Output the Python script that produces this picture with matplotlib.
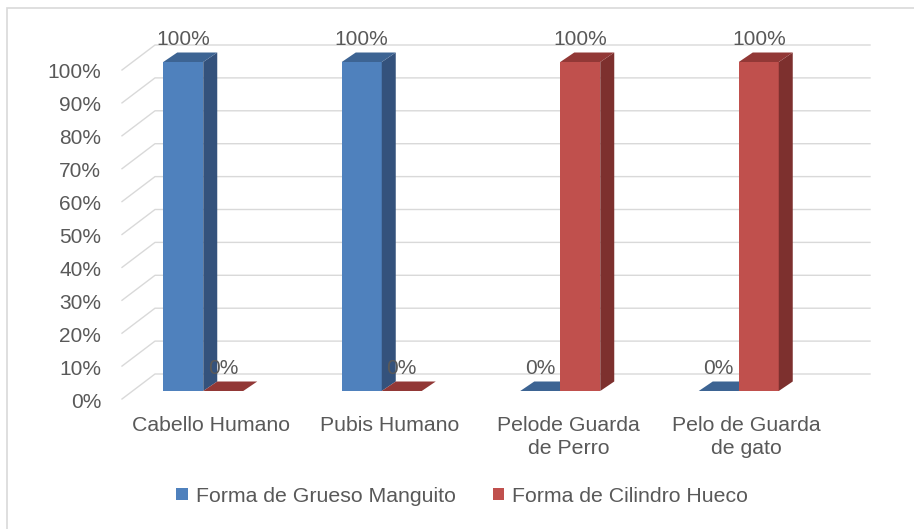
import matplotlib

matplotlib.use("Agg")
import matplotlib.pyplot as plt
from matplotlib.patches import Patch, Polygon, Rectangle

plt.rcParams["font.family"] = ["Liberation Sans", "DejaVu Sans"]

categories = ["Cabello Humano", "Pubis Humano", "Pelode Guarda\nde Perro", "Pelo de Guarda\nde gato"]
series_names = ["Forma de Grueso Manguito", "Forma de Cilindro Hueco"]
manguito = [100, 100, 0, 0]
cilindro = [0, 0, 100, 100]
y_ticks = [0, 10, 20, 30, 40, 50, 60, 70, 80, 90, 100]
y_tick_labels = [f"{v}%" for v in y_ticks]

# face colours: front, side, top
BLUE = ("#4f81bd", "#34527c", "#3d6493")
RED = ("#c0504d", "#7d302e", "#923836")
TEXT = "#595959"
GRID = "#d9d9d9"

W, H = 914, 529
# pixel scales of the front plane
PX_CAT = 178.5
PX_PCT = 3.29
# wall depth (category units, percent units)
WALL_DX = 33 / PX_CAT
WALL_DY = 25 / PX_PCT
# bar geometry
BAR_W = 40 / PX_CAT
BAR_DX = 14 / PX_CAT
BAR_DY = 9.5 / PX_PCT
BAR_BASE = 8 / PX_PCT
PAIR_SHIFT = -8 / PX_CAT

fig = plt.figure(figsize=(W / 100, H / 100), dpi=100)
left, right, bottom, top = 122, 870, 399, 20
ax = fig.add_axes([left / W, 1 - bottom / H, (right - left) / W, (bottom - top) / H])
ax.set_xlim(0, (right - left) / PX_CAT)
ax.set_ylim(0, (bottom - top) / PX_PCT)
ax.axis("off")

# chart border (only left/top edges fall inside the image)
fig.patches.append(Rectangle((7 / W, -0.05), 1.2, 1 - 8 / H + 0.05, transform=fig.transFigure,
                             fill=False, edgecolor="#d9d9d9", lw=1.2))

xmax = (right - left) / PX_CAT
for v, lab in zip(y_ticks, y_tick_labels):
    ax.plot([0, WALL_DX, xmax], [v, v + WALL_DY, v + WALL_DY], color=GRID, lw=1.0,
            zorder=1, clip_on=False)
    ax.text(-21 / PX_CAT, v - 3 / PX_PCT, lab, ha="right", va="center", fontsize=15, color=TEXT)


def draw_bar(x0, value, colors):
    front, side, top_c = colors
    y0 = BAR_BASE
    y1 = BAR_BASE + value
    x1 = x0 + BAR_W
    if value > 0:
        ax.add_patch(Rectangle((x0, y0), BAR_W, value, facecolor=front, edgecolor="none", zorder=3))
        ax.add_patch(Polygon([(x1, y0), (x1 + BAR_DX, y0 + BAR_DY), (x1 + BAR_DX, y1 + BAR_DY), (x1, y1)],
                             facecolor=side, edgecolor="none", zorder=3))
    ax.add_patch(Polygon([(x0, y1), (x1, y1), (x1 + BAR_DX, y1 + BAR_DY), (x0 + BAR_DX, y1 + BAR_DY)],
                         facecolor=top_c, edgecolor="none", zorder=3))
    ax.text(x0 + BAR_W / 2, y1 + 6.8, f"{value}%", ha="center", va="center",
            fontsize=15, color=TEXT, zorder=4)


for i, cat in enumerate(categories):
    center = i + 0.5
    pair_left = center + PAIR_SHIFT - BAR_W
    draw_bar(pair_left, manguito[i], BLUE)
    draw_bar(pair_left + BAR_W, cilindro[i], RED)
    ax.text(center, -17 / PX_PCT, cat, ha="center", va="top", fontsize=15.3, color=TEXT,
            linespacing=1.25)

handles = [Patch(facecolor=BLUE[0], edgecolor="none"), Patch(facecolor=RED[0], edgecolor="none")]
fig.legend(handles, series_names, loc="center", bbox_to_anchor=(462 / W, 1 - 496 / H), ncol=2,
           frameon=False, fontsize=15.3, handlelength=0.55, handleheight=0.55, handletextpad=0.35,
           columnspacing=1.75, labelcolor=TEXT)

fig.savefig("out.png", dpi=100)
